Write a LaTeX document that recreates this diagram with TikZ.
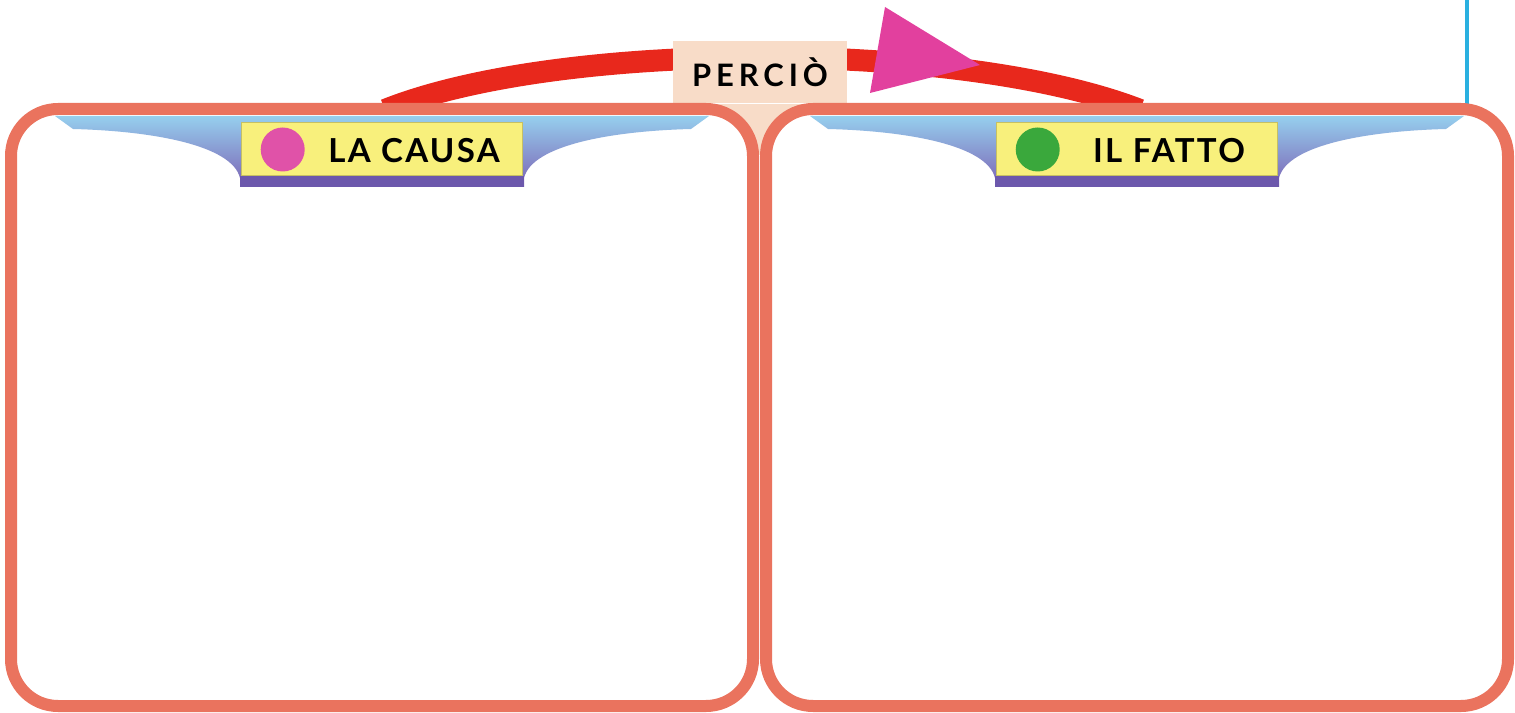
\documentclass[tikz,border=0pt]{standalone}
\usepackage{fontspec}
\setmainfont{Lato}
\newfontfamily\headfont{Lato}[LetterSpace=7]
\newfontfamily\linkfont{Lato}[LetterSpace=16]
\usepackage{xcolor}
\usetikzlibrary{positioning}

\definecolor{boxline}{HTML}{EA735E}
\definecolor{arcred}{HTML}{E8281C}
\definecolor{tippink}{HTML}{E2409E}
\definecolor{labelbg}{HTML}{F8DCC8}
\definecolor{bandtop}{HTML}{96CFEE}
\definecolor{bandbot}{HTML}{7B62B4}
\definecolor{stripcol}{HTML}{6C58AC}
\definecolor{labelyellow}{HTML}{F8F07C}
\definecolor{dotpink}{HTML}{E052A8}
\definecolor{dotgreen}{HTML}{3AA83C}
\definecolor{edgecyan}{HTML}{2AB0E0}

\begin{document}
\begin{tikzpicture}[x=0.1mm, y=-0.1mm, font=\bfseries]
      \useasboundingbox (0,0) rectangle (1515,713);
      \tikzstyle{panel} = [draw=boxline, line width=1.2mm, fill=white, rounded corners=4.7mm, minimum width=74.2mm, minimum height=59.7mm, inner sep=0pt]
      \tikzstyle{labelbox} = [fill=labelyellow, draw=labelyellow!80!black, line width=0.1mm, minimum width=28.1mm, minimum height=5.3mm, inner sep=0pt]
      \tikzstyle{dot} = [circle, minimum size=4.4mm, inner sep=0pt]
      \tikzstyle{headtext} = [font=\fontsize{9.4pt}{10pt}\headfont\bfseries, inner sep=0pt]
      % edge of the page
      \draw[color=edgecyan, line width=0.4mm] (1467,0) -- (1467,104);
      % the arc from cause to fact
      \coordinate (arcfrom) at (385,110);
      \coordinate (arcto) at (1140,110);
      \draw[color=arcred, line width=2.2mm] (arcfrom) .. controls (560,40) and (960,40) .. (arcto);
      \node (percio) at (760,72) [fill=labelbg, minimum width=17.4mm, minimum height=6.2mm, inner sep=0pt, font=\fontsize{8.8pt}{10pt}\linkfont\bfseries] {PERCIÒ};
      \fill[labelbg] (percio.south west) rectangle (847,155);
      \fill[color=tippink] (885,7) -- (980,65) -- (870,93) -- cycle;
      % the two panels
      \node (causa) at (382,407.5) [panel] {};
      \node (fatto) at (1137,407.5) [panel] {};
      \foreach \cx/\dotcol/\txt/\nm in {382/dotpink/LA CAUSA/causa, 1137/dotgreen/IL FATTO/fatto} {
        \shade[top color=bandtop, bottom color=bandbot] (\cx-327,116) -- (\cx+327,116) -- (\cx+309,129) .. controls (\cx+230,131) and (\cx+150,145) .. (\cx+142,178) -- (\cx+142,187) -- (\cx-142,187) -- (\cx-142,178) .. controls (\cx-150,145) and (\cx-230,131) .. (\cx-309,129) -- cycle;
        \fill[stripcol] (\cx-142,176) rectangle (\cx+142,187);
        \node (\nm lbl) at (\cx,149.5) [labelbox] {};
        \node (\nm dot) [dot, fill=\dotcol, right=1.9mm of \nm lbl.west] {};
        \node (\nm txt) at (\cx+32,151) [headtext] {\txt};
      }
\end{tikzpicture}
\end{document}
